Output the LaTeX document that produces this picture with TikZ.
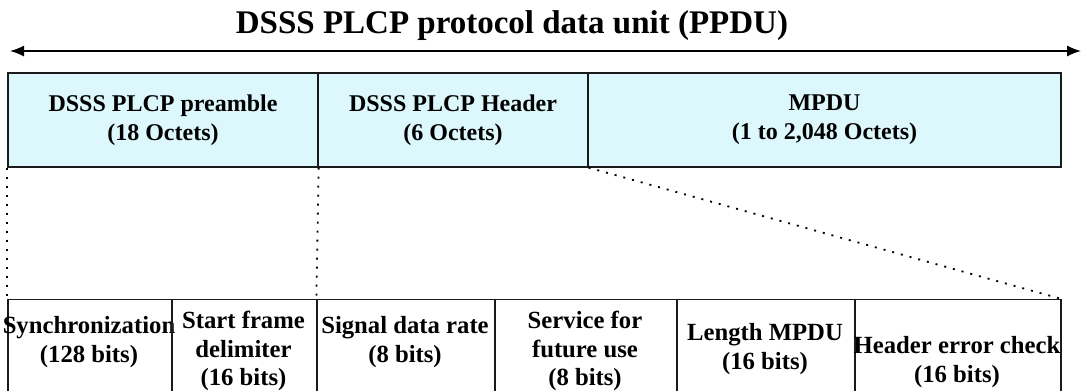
\documentclass[tikz,border=0pt]{standalone}
\usepackage{fontspec}
\setmainfont{Liberation Serif}
\usepackage{tikz}
\usetikzlibrary{arrows.meta}
\definecolor{cellcyan}{HTML}{DDF8FD}
\definecolor{frameblack}{HTML}{1A1A1A}

\begin{document}
\begin{tikzpicture}[x=1pt,y=-1pt,
    seg/.style={draw=frameblack,line width=1.3pt,fill=cellcyan,inner sep=0pt,
        minimum height=94pt,align=center,font=\fontsize{24}{29}\selectfont\bfseries},
    field/.style={draw=frameblack,line width=1.3pt,inner sep=0pt,anchor=north,
        minimum height=112pt},
    fieldtxt/.style={align=center,inner sep=0pt,font=\fontsize{24.7}{28.5}\selectfont\bfseries},
    spread/.style={dash pattern=on 2pt off 7pt,line width=1.8pt}]
\useasboundingbox (0,0) rectangle (1082,391);
\clip (0,0) rectangle (1082,391);
% title and overall extent
\node[font=\fontsize{33}{38}\selectfont\bfseries] (title) at (512,26) {DSSS PLCP protocol data unit (PPDU)};
\coordinate (pl) at (10,51);
\coordinate (pr) at (1081,51);
\draw[line width=1.5pt,{Latex[length=14pt,width=11pt]}-{Latex[length=14pt,width=11pt]}] (pl) -- (pr);
% PPDU segments
\node[seg,minimum width=310pt] (pre) at (163,120) {DSSS PLCP preamble\\(18 Octets)};
\node[seg,minimum width=270pt] (hdr) at (453,120) {DSSS PLCP Header\\(6 Octets)};
\node[seg,minimum width=473pt] (mpdu) at (824.5,120) {MPDU\\(1 to 2,048 Octets)};
% fields of preamble and header
\foreach \l/\r/\nm/\ty/\txt in {
    8/172/sync/342/{Synchronization\\(128 bits)},
    172/317/sfd/351/{Start frame\\delimiter\\(16 bits)},
    317/495/sig/342/{Signal data rate\\(8 bits)},
    495/677/serv/351/{Service for\\future use\\(8 bits)},
    677/855/len/349/{Length MPDU\\(16 bits)},
    855/1061/hec/362/{Header error check\\(16 bits)}}
{
    \node[field,minimum width={(\r-\l)*1pt}] (\nm) at ({(\l+\r)/2},299) {};
    \node[fieldtxt] (\nm txt) at ({(\l+\r)/2-1},\ty) {\txt};
}
% expansion lines
\draw[spread] (pre.south west) -- (sync.north west);
\draw[spread] (pre.south east) -- (sig.north west);
\draw[spread] (hdr.south east) -- (hec.north east);
\end{tikzpicture}
\end{document}
